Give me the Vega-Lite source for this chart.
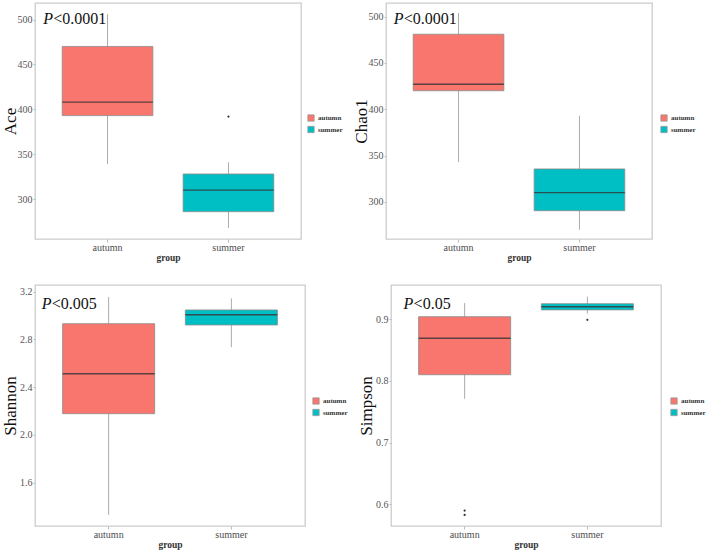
{
  "$schema": "https://vega.github.io/schema/vega-lite/v6.json",
  "padding": {"left": 0, "top": 2, "right": 0, "bottom": 0},
  "background": "white",
  "datasets": {
    "stats": [
      {"metric": "Ace", "group": "autumn", "lower": 339, "q1": 393, "median": 408, "q3": 470, "upper": 506},
      {"metric": "Ace", "group": "summer", "lower": 268, "q1": 286, "median": 310, "q3": 328, "upper": 341},
      {"metric": "Chao1", "group": "autumn", "lower": 343, "q1": 420, "median": 427, "q3": 481, "upper": 504},
      {"metric": "Chao1", "group": "summer", "lower": 270, "q1": 290.5, "median": 310, "q3": 335.6, "upper": 393},
      {"metric": "Shannon", "group": "autumn", "lower": 1.33, "q1": 2.178, "median": 2.513, "q3": 2.932, "upper": 3.156},
      {"metric": "Shannon", "group": "summer", "lower": 2.735, "q1": 2.921, "median": 3.007, "q3": 3.047, "upper": 3.144},
      {"metric": "Simpson", "group": "autumn", "lower": 0.771, "q1": 0.81, "median": 0.869, "q3": 0.904, "upper": 0.926},
      {"metric": "Simpson", "group": "summer", "lower": 0.909, "q1": 0.915, "median": 0.92, "q3": 0.925, "upper": 0.9365}
    ],
    "outliers": [
      {"metric": "Ace", "group": "summer", "value": 392},
      {"metric": "Simpson", "group": "autumn", "value": 0.59},
      {"metric": "Simpson", "group": "autumn", "value": 0.583},
      {"metric": "Simpson", "group": "summer", "value": 0.899}
    ],
    "pvals": [
      {"metric": "Ace", "group": "autumn", "y": 495, "p": "P", "rest": "<0.0001"},
      {"metric": "Chao1", "group": "autumn", "y": 492, "p": "P", "rest": "<0.0001"},
      {"metric": "Shannon", "group": "autumn", "y": 3.053, "p": "P", "rest": "<0.005"},
      {"metric": "Simpson", "group": "autumn", "y": 0.916, "p": "P", "rest": "<0.05"}
    ]
  },
  "vconcat": [
    {
      "hconcat": [
        {
          "width": 266, "height": 236,
          "layer": [
            {"data": {"name": "stats"}, "transform": [{"filter": "datum.metric === 'Ace'"}],
             "mark": {"type": "rule", "color": "#ababab", "strokeWidth": 1},
             "encoding": {
               "x": {"field": "group", "type": "nominal", "scale": {"domain": ["autumn", "summer"], "paddingInner": 0.25, "paddingOuter": 0.225}, "axis": {"title": "group", "labelAngle": 0}},
               "y": {"field": "lower", "type": "quantitative", "title": "Ace", "scale": {"domain": [255.6, 518.4], "nice": false, "zero": false}, "axis": {"values": [300, 350, 400, 450, 500]}},
               "y2": {"field": "upper"}}},
            {"data": {"name": "stats"}, "transform": [{"filter": "datum.metric === 'Ace'"}],
             "mark": {"type": "bar", "stroke": "#8c8c8c", "strokeWidth": 0.8, "opacity": 1},
             "encoding": {
               "x": {"field": "group", "type": "nominal"},
               "y": {"field": "q1", "type": "quantitative", "title": "Ace"},
               "y2": {"field": "q3"},
               "color": {"field": "group", "type": "nominal", "scale": {"domain": ["autumn", "summer"], "range": ["#F8766D", "#00BFC4"]}, "legend": {"title": null, "orient": "none", "legendX": 272, "legendY": 111}}}},
            {"data": {"name": "stats"}, "transform": [{"filter": "datum.metric === 'Ace'"}],
             "mark": {"type": "tick", "color": "#333333", "opacity": 0.8, "thickness": 1.4},
             "encoding": {
               "x": {"field": "group", "type": "nominal"},
               "y": {"field": "median", "type": "quantitative", "title": "Ace"}}},
            {"data": {"name": "outliers"}, "transform": [{"filter": "datum.metric === 'Ace'"}],
             "mark": {"type": "point", "filled": true, "color": "#333333", "size": 5, "opacity": 1},
             "encoding": {
               "x": {"field": "group", "type": "nominal"},
               "y": {"field": "value", "type": "quantitative", "title": "Ace"}}},
            {"data": {"name": "pvals"}, "transform": [{"filter": "datum.metric === 'Ace'"}],
             "mark": {"type": "text", "align": "left", "baseline": "alphabetic", "fontSize": 16, "fontStyle": "italic", "color": "#111"},
             "encoding": {
               "x": {"field": "group", "type": "nominal", "bandPosition": -0.21},
               "y": {"field": "y", "type": "quantitative", "title": "Ace"},
               "text": {"field": "p"}}},
            {"data": {"name": "pvals"}, "transform": [{"filter": "datum.metric === 'Ace'"}],
             "mark": {"type": "text", "align": "left", "baseline": "alphabetic", "fontSize": 16, "dx": 10, "color": "#111"},
             "encoding": {
               "x": {"field": "group", "type": "nominal", "bandPosition": -0.21},
               "y": {"field": "y", "type": "quantitative", "title": "Ace"},
               "text": {"field": "rest"}}}
          ]
        },
        {
          "width": 266, "height": 236,
          "layer": [
            {"data": {"name": "stats"}, "transform": [{"filter": "datum.metric === 'Chao1'"}],
             "mark": {"type": "rule", "color": "#ababab", "strokeWidth": 1},
             "encoding": {
               "x": {"field": "group", "type": "nominal", "scale": {"domain": ["autumn", "summer"], "paddingInner": 0.25, "paddingOuter": 0.225}, "axis": {"title": "group", "labelAngle": 0}},
               "y": {"field": "lower", "type": "quantitative", "title": "Chao1", "scale": {"domain": [260, 514.7], "nice": false, "zero": false}, "axis": {"values": [300, 350, 400, 450, 500]}},
               "y2": {"field": "upper"}}},
            {"data": {"name": "stats"}, "transform": [{"filter": "datum.metric === 'Chao1'"}],
             "mark": {"type": "bar", "stroke": "#8c8c8c", "strokeWidth": 0.8, "opacity": 1},
             "encoding": {
               "x": {"field": "group", "type": "nominal"},
               "y": {"field": "q1", "type": "quantitative", "title": "Chao1"},
               "y2": {"field": "q3"},
               "color": {"field": "group", "type": "nominal", "scale": {"domain": ["autumn", "summer"], "range": ["#F8766D", "#00BFC4"]}, "legend": {"title": null, "orient": "none", "legendX": 274, "legendY": 111}}}},
            {"data": {"name": "stats"}, "transform": [{"filter": "datum.metric === 'Chao1'"}],
             "mark": {"type": "tick", "color": "#333333", "opacity": 0.8, "thickness": 1.4},
             "encoding": {
               "x": {"field": "group", "type": "nominal"},
               "y": {"field": "median", "type": "quantitative", "title": "Chao1"}}},
            {"data": {"name": "pvals"}, "transform": [{"filter": "datum.metric === 'Chao1'"}],
             "mark": {"type": "text", "align": "left", "baseline": "alphabetic", "fontSize": 16, "fontStyle": "italic", "color": "#111"},
             "encoding": {
               "x": {"field": "group", "type": "nominal", "bandPosition": -0.215},
               "y": {"field": "y", "type": "quantitative", "title": "Chao1"},
               "text": {"field": "p"}}},
            {"data": {"name": "pvals"}, "transform": [{"filter": "datum.metric === 'Chao1'"}],
             "mark": {"type": "text", "align": "left", "baseline": "alphabetic", "fontSize": 16, "dx": 10, "color": "#111"},
             "encoding": {
               "x": {"field": "group", "type": "nominal", "bandPosition": -0.215},
               "y": {"field": "y", "type": "quantitative", "title": "Chao1"},
               "text": {"field": "rest"}}}
          ]
        }
      ],
      "spacing": 7,
      "resolve": {"scale": {"x": "independent", "y": "independent", "color": "independent"}, "legend": {"color": "independent"}}
    },
    {
      "hconcat": [
        {
          "width": 270, "height": 241,
          "layer": [
            {"data": {"name": "stats"}, "transform": [{"filter": "datum.metric === 'Shannon'"}],
             "mark": {"type": "rule", "color": "#ababab", "strokeWidth": 1},
             "encoding": {
               "x": {"field": "group", "type": "nominal", "scale": {"domain": ["autumn", "summer"], "paddingInner": 0.25, "paddingOuter": 0.225}, "axis": {"title": "group", "labelAngle": 0}},
               "y": {"field": "lower", "type": "quantitative", "title": "Shannon", "scale": {"domain": [1.237, 3.256], "nice": false, "zero": false}, "axis": {"values": [1.6, 2.0, 2.4, 2.8, 3.2], "format": ".1f"}},
               "y2": {"field": "upper"}}},
            {"data": {"name": "stats"}, "transform": [{"filter": "datum.metric === 'Shannon'"}],
             "mark": {"type": "bar", "stroke": "#8c8c8c", "strokeWidth": 0.8, "opacity": 1},
             "encoding": {
               "x": {"field": "group", "type": "nominal"},
               "y": {"field": "q1", "type": "quantitative", "title": "Shannon"},
               "y2": {"field": "q3"},
               "color": {"field": "group", "type": "nominal", "scale": {"domain": ["autumn", "summer"], "range": ["#F8766D", "#00BFC4"]}, "legend": {"title": null, "orient": "none", "legendX": 277, "legendY": 112}}}},
            {"data": {"name": "stats"}, "transform": [{"filter": "datum.metric === 'Shannon'"}],
             "mark": {"type": "tick", "color": "#333333", "opacity": 0.8, "thickness": 1.4},
             "encoding": {
               "x": {"field": "group", "type": "nominal"},
               "y": {"field": "median", "type": "quantitative", "title": "Shannon"}}},
            {"data": {"name": "pvals"}, "transform": [{"filter": "datum.metric === 'Shannon'"}],
             "mark": {"type": "text", "align": "left", "baseline": "alphabetic", "fontSize": 16, "fontStyle": "italic", "color": "#111"},
             "encoding": {
               "x": {"field": "group", "type": "nominal", "bandPosition": -0.227},
               "y": {"field": "y", "type": "quantitative", "title": "Shannon"},
               "text": {"field": "p"}}},
            {"data": {"name": "pvals"}, "transform": [{"filter": "datum.metric === 'Shannon'"}],
             "mark": {"type": "text", "align": "left", "baseline": "alphabetic", "fontSize": 16, "dx": 10, "color": "#111"},
             "encoding": {
               "x": {"field": "group", "type": "nominal", "bandPosition": -0.227},
               "y": {"field": "y", "type": "quantitative", "title": "Shannon"},
               "text": {"field": "rest"}}}
          ]
        },
        {
          "width": 270, "height": 241,
          "layer": [
            {"data": {"name": "stats"}, "transform": [{"filter": "datum.metric === 'Simpson'"}],
             "mark": {"type": "rule", "color": "#ababab", "strokeWidth": 1},
             "encoding": {
               "x": {"field": "group", "type": "nominal", "scale": {"domain": ["autumn", "summer"], "paddingInner": 0.25, "paddingOuter": 0.225}, "axis": {"title": "group", "labelAngle": 0}},
               "y": {"field": "lower", "type": "quantitative", "title": "Simpson", "scale": {"domain": [0.565, 0.9553], "nice": false, "zero": false}, "axis": {"values": [0.6, 0.7, 0.8, 0.9], "format": ".1f"}},
               "y2": {"field": "upper"}}},
            {"data": {"name": "stats"}, "transform": [{"filter": "datum.metric === 'Simpson'"}],
             "mark": {"type": "bar", "stroke": "#8c8c8c", "strokeWidth": 0.8, "opacity": 1},
             "encoding": {
               "x": {"field": "group", "type": "nominal"},
               "y": {"field": "q1", "type": "quantitative", "title": "Simpson"},
               "y2": {"field": "q3"},
               "color": {"field": "group", "type": "nominal", "scale": {"domain": ["autumn", "summer"], "range": ["#F8766D", "#00BFC4"]}, "legend": {"title": null, "orient": "none", "legendX": 279, "legendY": 112}}}},
            {"data": {"name": "stats"}, "transform": [{"filter": "datum.metric === 'Simpson'"}],
             "mark": {"type": "tick", "color": "#333333", "opacity": 0.8, "thickness": 1.4},
             "encoding": {
               "x": {"field": "group", "type": "nominal"},
               "y": {"field": "median", "type": "quantitative", "title": "Simpson"}}},
            {"data": {"name": "outliers"}, "transform": [{"filter": "datum.metric === 'Simpson'"}],
             "mark": {"type": "point", "filled": true, "color": "#333333", "size": 5, "opacity": 1},
             "encoding": {
               "x": {"field": "group", "type": "nominal"},
               "y": {"field": "value", "type": "quantitative", "title": "Simpson"}}},
            {"data": {"name": "pvals"}, "transform": [{"filter": "datum.metric === 'Simpson'"}],
             "mark": {"type": "text", "align": "left", "baseline": "alphabetic", "fontSize": 16, "fontStyle": "italic", "color": "#111"},
             "encoding": {
               "x": {"field": "group", "type": "nominal", "bandPosition": -0.163},
               "y": {"field": "y", "type": "quantitative", "title": "Simpson"},
               "text": {"field": "p"}}},
            {"data": {"name": "pvals"}, "transform": [{"filter": "datum.metric === 'Simpson'"}],
             "mark": {"type": "text", "align": "left", "baseline": "alphabetic", "fontSize": 16, "dx": 10, "color": "#111"},
             "encoding": {
               "x": {"field": "group", "type": "nominal", "bandPosition": -0.163},
               "y": {"field": "y", "type": "quantitative", "title": "Simpson"},
               "text": {"field": "rest"}}}
          ]
        }
      ],
      "spacing": 7,
      "resolve": {"scale": {"x": "independent", "y": "independent", "color": "independent"}, "legend": {"color": "independent"}}
    }
  ],
  "spacing": 21,
  "resolve": {"scale": {"x": "independent", "y": "independent", "color": "independent"}, "legend": {"color": "independent"}},
  "config": {
    "font": "Liberation Serif",
    "view": {"stroke": "#cccccc", "strokeWidth": 1.3},
    "axis": {"grid": false, "domain": false, "tickColor": "#bbbbbb"},
    "axisX": {"labelFontSize": 10, "labelColor": "#4d4d4d", "titleFontSize": 9.5, "titleFontWeight": "bold", "titleColor": "#333333", "tickSize": 3, "labelPadding": 0, "titlePadding": 0},
    "axisY": {"labelFontSize": 10, "labelColor": "#555555", "titleFontSize": 17, "titleFontWeight": "normal", "titleColor": "#111111", "tickSize": 2, "labelPadding": 1, "minExtent": 16, "maxExtent": 16, "titlePadding": 0},
    "legend": {"symbolType": "square", "symbolSize": 40, "symbolStrokeColor": "#999999", "symbolStrokeWidth": 0.8, "labelFontSize": 7, "labelFontWeight": "bold", "labelColor": "#333333", "rowPadding": 1.5, "labelOffset": 3, "padding": 0},
    "tick": {"bandSize": 91}
  }
}
